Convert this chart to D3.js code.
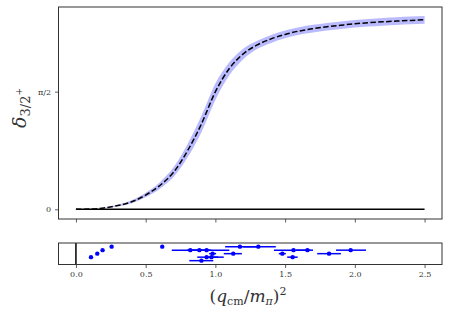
<!DOCTYPE html>
<html>
<head>
<meta charset="utf-8">
<script src="https://cdn.jsdelivr.net/npm/d3@7"></script>
<style>
  body { margin: 0; background: #fff; }
  svg text { font-family: "DejaVu Serif", "Liberation Serif", serif; fill: #333; }
</style>
</head>
<body>
<script>
// phase shift curve (radians) vs (q/m_pi)^2
const curveX = [0.0, 0.1, 0.2, 0.3, 0.4, 0.5, 0.6, 0.7, 0.8, 0.9, 1.0, 1.1, 1.2,
                1.3, 1.4, 1.5, 1.6, 1.7, 1.8, 1.9, 2.0, 2.1, 2.2, 2.3, 2.4, 2.5];
const curveY = [0.000, 0.004, 0.017, 0.050, 0.100, 0.190, 0.315, 0.495, 0.780, 1.140, 1.570, 1.880, 2.075,
                2.195, 2.275, 2.335, 2.380, 2.412, 2.438, 2.458, 2.477, 2.491, 2.503, 2.513, 2.522, 2.530];
const bandLo = [0.000, 0.002, 0.012, 0.038, 0.080, 0.160, 0.272, 0.430, 0.690, 1.030, 1.460, 1.790, 2.005,
                2.140, 2.222, 2.283, 2.329, 2.361, 2.387, 2.407, 2.426, 2.440, 2.452, 2.462, 2.471, 2.479];
const bandHi = [0.000, 0.006, 0.022, 0.062, 0.120, 0.220, 0.358, 0.560, 0.870, 1.250, 1.680, 1.965, 2.145,
                2.250, 2.328, 2.387, 2.431, 2.463, 2.489, 2.509, 2.528, 2.542, 2.554, 2.564, 2.573, 2.581];

// lattice levels shown in the lower strip
const ptX   = [0.256, 0.619, 1.176, 1.308,
               0.191, 0.820, 0.885, 0.937, 1.560, 1.660, 1.970,
               0.153, 0.980, 1.128, 1.480, 1.815,
               0.108, 0.937, 0.972, 1.554,
               0.900];
const ptLo  = [0.256, 0.619, 1.070, 1.200,
               0.191, 0.687, 0.800, 0.800, 1.420, 1.580, 1.865,
               0.153, 0.955, 1.060, 1.455, 1.730,
               0.108, 0.870, 0.930, 1.515,
               0.813];
const ptHi  = [0.256, 0.619, 1.300, 1.433,
               0.191, 0.950, 0.970, 1.100, 1.680, 1.700, 2.080,
               0.153, 1.005, 1.190, 1.505, 1.900,
               0.108, 1.020, 1.060, 1.590,
               0.985];
const ptRow = [0, 0, 0, 0,
               1, 1, 1, 1, 1, 1, 1,
               2, 2, 2, 2, 2,
               3, 3, 3, 3,
               4];

const xTicks = [0, 0.5, 1.0, 1.5, 2.0, 2.5];
const yTicks = [0, Math.PI / 2];
const yTickLabels = ["0", "\u03c0/2"];

const W = 449, H = 313;
const left = 58.5, right = 442;
const mainTop = 7, mainBot = 219;
const subTop = 243, subBot = 264.5;

const svg = d3.select("body").append("svg")
  .attr("width", W).attr("height", H);

const x = d3.scaleLinear().domain([-0.125, 2.625]).range([left, right]);
const y = d3.scaleLinear().domain([-0.1295, 2.701]).range([mainBot, mainTop]);
const yRow = d3.scaleLinear().domain([-1.05, 5.1]).range([subTop, subBot]);

// ---- main panel
const main = svg.append("g");

const area = d3.area()
  .x((d, i) => x(curveX[i]))
  .y0((d, i) => y(bandLo[i]))
  .y1((d, i) => y(bandHi[i]))
  .curve(d3.curveMonotoneX);
main.append("path")
  .datum(curveX)
  .attr("d", area)
  .attr("fill", "rgba(0,0,255,0.27)");

main.append("line")
  .attr("x1", x(0)).attr("x2", x(2.5))
  .attr("y1", y(0)).attr("y2", y(0))
  .attr("stroke", "#000").attr("stroke-width", 1.5);

const line = d3.line()
  .x((d, i) => x(curveX[i]))
  .y((d, i) => y(curveY[i]))
  .curve(d3.curveMonotoneX);
main.append("path")
  .datum(curveX)
  .attr("d", line)
  .attr("fill", "none")
  .attr("stroke", "#000")
  .attr("stroke-width", 1.5)
  .attr("stroke-dasharray", "5.5,2.4");

main.append("g")
  .attr("transform", "translate(0," + mainBot + ")")
  .call(d3.axisBottom(x).tickValues(xTicks).tickSize(3.5).tickFormat(""))
  .call(g => g.select(".domain").remove())
  .call(g => g.selectAll("line").attr("stroke", "#333").attr("stroke-width", 0.8));

main.append("g")
  .attr("transform", "translate(" + left + ",0)")
  .call(d3.axisLeft(y).tickValues(yTicks).tickSize(3.5).tickPadding(4)
          .tickFormat((d, i) => yTickLabels[i]))
  .call(g => g.select(".domain").remove())
  .call(g => g.selectAll("line").attr("stroke", "#333").attr("stroke-width", 0.8))
  .call(g => g.selectAll("text").attr("font-size", 8).attr("font-family", "DejaVu Serif").attr("fill", "#333"));

main.append("rect")
  .attr("x", left).attr("y", mainTop)
  .attr("width", right - left).attr("height", mainBot - mainTop)
  .attr("fill", "none").attr("stroke", "#333").attr("stroke-width", 1);

// ---- lower strip
const sub = svg.append("g");

sub.append("line")
  .attr("x1", x(0)).attr("x2", x(0))
  .attr("y1", subTop).attr("y2", subBot)
  .attr("stroke", "#000").attr("stroke-width", 1.5);

sub.selectAll(".err")
  .data(ptX)
  .enter().append("line")
  .attr("class", "err")
  .attr("x1", (d, i) => x(ptLo[i]))
  .attr("x2", (d, i) => x(ptHi[i]))
  .attr("y1", (d, i) => yRow(ptRow[i]))
  .attr("y2", (d, i) => yRow(ptRow[i]))
  .attr("stroke", "#0000ff")
  .attr("stroke-width", 1.5);

sub.selectAll(".pt")
  .data(ptX)
  .enter().append("circle")
  .attr("class", "pt")
  .attr("cx", d => x(d))
  .attr("cy", (d, i) => yRow(ptRow[i]))
  .attr("r", 2.2)
  .attr("fill", "#0000ff");

sub.append("g")
  .attr("transform", "translate(0," + subBot + ")")
  .call(d3.axisBottom(x).tickValues(xTicks).tickSize(3.5).tickPadding(3)
          .tickFormat(d3.format(".1f")))
  .call(g => g.select(".domain").remove())
  .call(g => g.selectAll("line").attr("stroke", "#333").attr("stroke-width", 0.8))
  .call(g => g.selectAll("text").attr("font-size", 8).attr("font-family", "DejaVu Serif").attr("fill", "#333"));

sub.append("rect")
  .attr("x", left).attr("y", subTop)
  .attr("width", right - left).attr("height", subBot - subTop)
  .attr("fill", "none").attr("stroke", "#333").attr("stroke-width", 1);

// ---- axis labels
const xl = svg.append("text")
  .attr("x", 248).attr("y", 302)
  .attr("text-anchor", "middle")
  .attr("font-size", 17)
  .attr("fill", "#000");
xl.append("tspan").text("(");
xl.append("tspan").attr("font-style", "italic").text("q");
xl.append("tspan").attr("font-size", 11).attr("dy", 3).text("cm");
xl.append("tspan").attr("dy", -3).text("/");
xl.append("tspan").attr("font-style", "italic").text("m");
xl.append("tspan").attr("font-size", 11).attr("font-style", "italic").attr("dy", 3).text("\u03c0");
xl.append("tspan").attr("dy", -3).text(")");
xl.append("tspan").attr("font-size", 11).attr("dy", -7).text("2");

const yl = svg.append("text")
  .attr("transform", "translate(26,108) rotate(-90)")
  .attr("text-anchor", "middle")
  .attr("font-size", 19)
  .attr("fill", "#000");
yl.append("tspan").attr("font-style", "italic").text("\u03b4");
yl.append("tspan").attr("font-size", 13).attr("dy", 4).text("3/2");
yl.append("tspan").attr("font-size", 9).attr("dy", -8).text("+");
</script>
</body>
</html>
